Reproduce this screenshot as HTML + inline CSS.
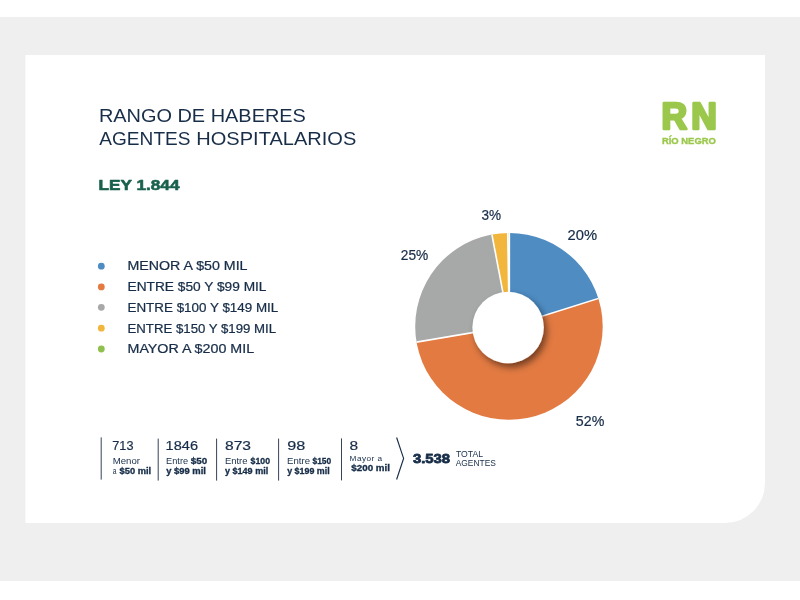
<!DOCTYPE html>
<html lang="es">
<head>
<meta charset="utf-8">
<title>Rango de haberes - Agentes hospitalarios</title>
<style>
  html, body { margin: 0; padding: 0; background: #ffffff; }
  body { width: 800px; height: 600px; overflow: hidden; position: relative; }
  svg { will-change: transform; position: absolute; left: 0; top: 0; display: block; }
  text { font-family: "Liberation Sans", sans-serif; fill: #172d48; }
  .b { font-weight: bold; }
  .g { fill: #1a614d; }
  .lg { fill: #9bc84c; }
  .hb { stroke: #172d48; stroke-width: 0.3; }
  .hb2 { stroke: #172d48; stroke-width: 0.8; stroke-linejoin: round; }
</style>
</head>
<body>
<svg width="800" height="600" viewBox="0 0 800 600">
  <defs>
    <filter id="hs" x="-40%" y="-40%" width="180%" height="180%">
      <feGaussianBlur in="SourceAlpha" stdDeviation="3.6"/>
      <feOffset dx="3.2" dy="3.6" result="o"/>
      <feComponentTransfer><feFuncA type="linear" slope="0.5"/></feComponentTransfer>
      <feMerge><feMergeNode/><feMergeNode in="SourceGraphic"/></feMerge>
    </filter>
    <clipPath id="pieclip"><ellipse cx="508.95" cy="326.4" rx="93.75" ry="93.4"/></clipPath>
  </defs>

  <!-- page background -->
  <rect x="0" y="0" width="800" height="600" fill="#ffffff"/>
  <rect x="0" y="17" width="800" height="564" fill="#efefef"/>
  <!-- card -->
  <path d="M25.4 55 H765 V483 A40 40 0 0 1 725 523 H25.4 Z" fill="#ffffff"/>

  <!-- title -->
  <text x="98.9" y="121.8" font-size="18.2" textLength="207" lengthAdjust="spacingAndGlyphs">RANGO DE HABERES</text>
  <text y="144.8" font-size="18.2"><tspan x="99.3" textLength="91.2" lengthAdjust="spacingAndGlyphs">AGENTES</tspan> <tspan x="196.3" textLength="160" lengthAdjust="spacingAndGlyphs">HOSPITALARIOS</tspan></text>
  <text class="b g" x="98.5" y="190.4" font-size="15.3" textLength="81" lengthAdjust="spacingAndGlyphs" stroke="#1a614d" stroke-width="0.6" stroke-linejoin="round">LEY 1.844</text>

  <!-- legend -->
  <g>
    <circle cx="101.3" cy="266.2" r="3.4" fill="#4e8cc2"/>
    <circle cx="101.3" cy="286.9" r="3.4" fill="#e27a42"/>
    <circle cx="101.3" cy="307.3" r="3.4" fill="#a7a9a8"/>
    <circle cx="101.3" cy="328.2" r="3.4" fill="#f2b63c"/>
    <circle cx="101.3" cy="349" r="3.4" fill="#8fc04e"/>
    <g font-size="12.1" stroke="#172d48" stroke-width="0.22">
      <text x="127.5" y="270.3" textLength="120" lengthAdjust="spacingAndGlyphs">MENOR A $50 MIL</text>
      <text x="127.5" y="291" textLength="139" lengthAdjust="spacingAndGlyphs">ENTRE $50 Y $99 MIL</text>
      <text x="127.5" y="311.8" textLength="150.8" lengthAdjust="spacingAndGlyphs">ENTRE $100 Y $149 MIL</text>
      <text x="127.5" y="332.5" textLength="148.6" lengthAdjust="spacingAndGlyphs">ENTRE $150 Y $199 MIL</text>
      <text x="127.5" y="353.3" textLength="126.6" lengthAdjust="spacingAndGlyphs">MAYOR A $200 MIL</text>
    </g>
  </g>

  <!-- donut -->
  <g>
    <g clip-path="url(#pieclip)">
      <path d="M509.4 326.4 L509.40 226.40 A100 100 0 0 1 604.80 296.41 Z" fill="#4e8cc2"/>
      <path d="M509.4 326.4 L604.80 296.41 A100 100 0 1 1 410.80 343.10 Z" fill="#e27a42"/>
      <path d="M509.4 326.4 L410.80 343.10 A100 100 0 0 1 490.69 228.17 Z" fill="#a7a9a8"/>
      <path d="M509.4 326.4 L490.69 228.17 A100 100 0 0 1 507.98 226.41 Z" fill="#f2b63c"/>
      <path d="M509.4 326.4 L507.98 226.41 A100 100 0 0 1 509.40 226.40 Z" fill="#8fc04e"/>
      <g stroke="#ffffff" stroke-width="1.6" stroke-linecap="butt">
        <line x1="509.4" y1="326.4" x2="509.40" y2="226.40" stroke-width="1.5"/>
        <line x1="509.4" y1="326.4" x2="604.80" y2="296.41"/>
        <line x1="509.4" y1="326.4" x2="410.80" y2="343.10"/>
        <line x1="509.4" y1="326.4" x2="490.69" y2="228.17"/>
        <line x1="509.4" y1="326.4" x2="507.7" y2="226.41" stroke-width="1.8"/>
      </g>
    </g>
    <circle cx="508.1" cy="327.5" r="35.7" fill="#ffffff" filter="url(#hs)"/>
  </g>
  <g font-size="13.8" stroke="#172d48" stroke-width="0.2">
    <text x="481.4" y="220.1" textLength="19.6" lengthAdjust="spacingAndGlyphs">3%</text>
    <text x="567.5" y="240" textLength="29.5" lengthAdjust="spacingAndGlyphs">20%</text>
    <text x="400.8" y="260" textLength="27.5" lengthAdjust="spacingAndGlyphs">25%</text>
    <text x="575.8" y="426.1" textLength="28.5" lengthAdjust="spacingAndGlyphs">52%</text>
  </g>

  <!-- bottom table -->
  <g stroke="#364358" stroke-width="1" fill="none">
    <line x1="101.2" y1="437.4" x2="101.2" y2="479.6"/>
    <line x1="158.2" y1="438.6" x2="158.2" y2="480.6"/>
    <line x1="216.6" y1="438.6" x2="216.6" y2="480.6"/>
    <line x1="278.6" y1="438.6" x2="278.6" y2="480.6"/>
    <line x1="341.5" y1="438.4" x2="341.5" y2="480.4"/>
  </g>
  <polyline points="396.6,437.5 403.6,458.4 396.6,479.5" stroke="#172d48" stroke-width="1.15" fill="none"/>
  <g font-size="13" stroke="#172d48" stroke-width="0.2">
    <text x="112.3" y="450.4" textLength="21.2" lengthAdjust="spacingAndGlyphs">713</text>
    <text x="165.6" y="450.4" textLength="32.4" lengthAdjust="spacingAndGlyphs">1846</text>
    <text x="225" y="450.4" textLength="26" lengthAdjust="spacingAndGlyphs">873</text>
    <text x="287.2" y="450.4" textLength="18" lengthAdjust="spacingAndGlyphs">98</text>
    <text x="349.6" y="450.4" textLength="8.6" lengthAdjust="spacingAndGlyphs">8</text>
  </g>
  <g font-size="8.3">
    <text x="112.7" y="463.7" textLength="27.3" lengthAdjust="spacingAndGlyphs">Menor</text>
    <text x="112.8" y="473.5" textLength="3.8" lengthAdjust="spacingAndGlyphs">a</text>
    <text class="b hb" x="119.6" y="473.5" textLength="31.6" lengthAdjust="spacingAndGlyphs">$50 mil</text>
    <text x="166.1" y="463.7" textLength="22" lengthAdjust="spacingAndGlyphs">Entre</text>
    <text class="b hb" x="190.8" y="463.7" textLength="16.4" lengthAdjust="spacingAndGlyphs">$50</text>
    <text class="b hb" x="166.2" y="473.5" textLength="39.8" lengthAdjust="spacingAndGlyphs">y $99 mil</text>
    <text x="224.9" y="463.7" textLength="22.6" lengthAdjust="spacingAndGlyphs">Entre</text>
    <text class="b hb" x="250.6" y="463.7" textLength="19.4" lengthAdjust="spacingAndGlyphs">$100</text>
    <text class="b hb" x="225" y="473.5" textLength="43.2" lengthAdjust="spacingAndGlyphs">y $149 mil</text>
    <text x="287.1" y="463.7" textLength="22.9" lengthAdjust="spacingAndGlyphs">Entre</text>
    <text class="b hb" x="312.5" y="463.7" textLength="18.7" lengthAdjust="spacingAndGlyphs">$150</text>
    <text class="b hb" x="287.2" y="473.5" textLength="42.5" lengthAdjust="spacingAndGlyphs">y $199 mil</text>
    <text x="349.6" y="460.7" font-size="7" fill="#4a566a" textLength="33" lengthAdjust="spacingAndGlyphs" letter-spacing="0.4">Mayor a</text>
    <text class="b hb" x="351.3" y="470.5" textLength="38.7" lengthAdjust="spacingAndGlyphs">$200 mil</text>
  </g>
  <text class="b hb2" x="412.9" y="462.7" font-size="13.7" textLength="37.2" lengthAdjust="spacingAndGlyphs">3.538</text>
  <text x="455.9" y="457.1" font-size="8.6" textLength="27.1" lengthAdjust="spacingAndGlyphs">TOTAL</text>
  <text x="455.7" y="466.2" font-size="8.6" textLength="40.2" lengthAdjust="spacingAndGlyphs">AGENTES</text>

  <!-- logo -->
  <g class="lg">
    <text class="b lg" y="128.9" font-size="36.6" stroke="#9bc84c" stroke-width="2.7" stroke-linejoin="round"><tspan x="661.6" textLength="25.6" lengthAdjust="spacingAndGlyphs">R</tspan><tspan x="691.2" textLength="25.6" lengthAdjust="spacingAndGlyphs">N</tspan></text>
    <text class="b lg" x="661.9" y="144.3" font-size="9.6" textLength="54" lengthAdjust="spacingAndGlyphs" stroke="#9bc84c" stroke-width="0.35">RÍO NEGRO</text>
  </g>
</svg>
</body>
</html>
